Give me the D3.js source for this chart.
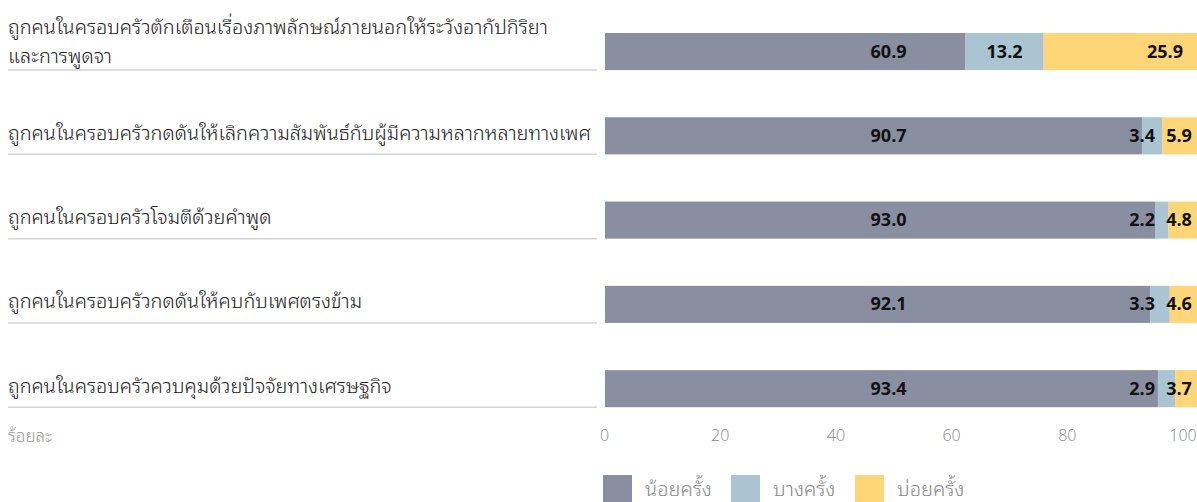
<!DOCTYPE html>
<html>
<head>
<meta charset="utf-8">
<script src="https://cdn.jsdelivr.net/npm/d3@7"></script>
<style>
  html, body { margin: 0; padding: 0; background: #fff; overflow: hidden; }
  svg { display: block; }
</style>
</head>
<body>
<svg id="chart" width="1197" height="502"></svg>
<script>
// Row labels (Thai); "\n" marks a line break
const categories = [
  "ถูกคนในครอบครัวตักเตือนเรื่องภาพลักษณ์ภายนอกให้ระวังอากัปกิริยา\nและการพูดจา",
  "ถูกคนในครอบครัวกดดันให้เลิกความสัมพันธ์กับผู้มีความหลากหลายทางเพศ",
  "ถูกคนในครอบครัวโจมตีด้วยคำพูด",
  "ถูกคนในครอบครัวกดดันให้คบกับเพศตรงข้าม",
  "ถูกคนในครอบครัวควบคุมด้วยปัจจัยทางเศรษฐกิจ"
];
const seriesNames = ["น้อยครั้ง", "บางครั้ง", "บ่อยครั้ง"];
const rarely    = [60.9, 90.7, 93.0, 92.1, 93.4];
const sometimes = [13.2, 3.4, 2.2, 3.3, 2.9];
const often     = [25.9, 5.9, 4.8, 4.6, 3.7];
const tickValues = [0, 20, 40, 60, 80, 100];
const unitLabel = "ร้อยละ";
const colors = ["#898ea1", "#aac4d2", "#fed678"];

const svg = d3.select("#chart");

const rows = categories.map((c, i) => ({ cat: c, vals: [rarely[i], sometimes[i], often[i]] }));

const x = d3.scaleLinear().domain([0, 100]).range([605, 1197]);
const xTicks = d3.scaleLinear().domain([0, 100]).range([604.5, 1183]);
const y = d3.scaleBand().domain(d3.range(categories.length)).range([33, 407.2])
  .paddingInner(0.56).paddingOuter(0);

const labelFont = "'Noto Sans Thai Looped', 'Loma', 'Garuda', 'Tlwg Typo', 'Leelawadee UI', Tahoma, 'Noto Sans Thai', sans-serif";
const valueFont = "'Open Sans', 'Noto Sans', sans-serif";
const fmt = d3.format(".1f");

function valueText(px, py, anchor, v) {
  svg.append("text").attr("x", px).attr("y", py).attr("text-anchor", anchor)
    .attr("font-family", valueFont).attr("font-weight", 700).attr("font-size", 18)
    .attr("fill", "#111").text(fmt(v));
}

rows.forEach((r, i) => {
  let acc = 0;
  const segs = r.vals.map((v, k) => { const s = { k, v, x0: acc, x1: acc + v }; acc += v; return s; });

  // stacked segments
  svg.append("g").selectAll("rect").data(segs).join("rect")
    .attr("x", d => x(d.x0))
    .attr("width", d => x(d.x1) - x(d.x0))
    .attr("y", y(i))
    .attr("height", y.bandwidth())
    .attr("fill", d => colors[d.k]);

  // separator under the row label
  svg.append("line")
    .attr("x1", 8).attr("x2", 597)
    .attr("y1", y(i) + y.bandwidth()).attr("y2", y(i) + y.bandwidth())
    .attr("stroke", "#d4d4d4").attr("stroke-width", 1.5);

  // row label, one text per line
  const lines = r.cat.split("\n");
  const cy = y(i) + y.bandwidth() / 2;
  const lh = 29;
  const firstBaseline = lines.length > 1 ? cy - 17.5 : cy + 4;
  lines.forEach((ln, j) => {
    svg.append("text")
      .attr("x", 8).attr("y", firstBaseline + j * lh)
      .attr("font-family", labelFont)
      .attr("font-size", 19.9)
      .attr("font-weight", 300)
      .attr("fill", "#222")
      .text(ln);
  });

  // value labels
  const vy = cy + 6;
  const right = x(100);
  // third series: right-aligned inside a wide segment, centred (clamped) otherwise
  const s2 = segs[2];
  const w2 = 28;
  let t2Left;
  if (x(s2.x1) - x(s2.x0) > w2 + 30) {
    t2Left = x(s2.x1) - 14 - w2 * 1.3;
    valueText(x(s2.x1) - 14, vy, "end", s2.v);
  } else {
    let c = (x(s2.x0) + x(s2.x1)) / 2;
    c = Math.min(c, right - 4 - w2 / 2);
    t2Left = c - w2 / 2;
    valueText(c, vy, "middle", s2.v);
  }
  // second series: centred in a wide segment, else set just left of the third label
  const s1 = segs[1];
  if (x(s1.x1) - x(s1.x0) > 50) {
    valueText((x(s1.x0) + x(s1.x1)) / 2, vy, "middle", s1.v);
  } else {
    valueText(t2Left - 10, vy, "end", s1.v);
  }
  // first series: common anchor column
  valueText(x(47.9), vy, "middle", segs[0].v);
});

// x axis tick labels
svg.append("g").selectAll("text").data(tickValues).join("text")
  .attr("x", d => xTicks(d))
  .attr("y", 441)
  .attr("text-anchor", "middle")
  .attr("font-family", valueFont)
  .attr("font-weight", 300)
  .attr("font-size", 16)
  .attr("fill", "#8a8a8a")
  .text(d => d);

svg.append("text").attr("x", 8).attr("y", 442)
  .attr("font-family", labelFont).attr("font-size", 17).attr("font-weight", 300)
  .attr("fill", "#999").text(unitLabel);

// legend
const legendX = [603, 731, 855];
const lg = svg.append("g").selectAll("g").data(seriesNames).join("g")
  .attr("transform", (d, i) => `translate(${legendX[i]},475)`);
lg.append("rect").attr("width", 29).attr("height", 29).attr("fill", (d, i) => colors[i]);
lg.append("text").attr("x", 42).attr("y", 21)
  .attr("font-family", labelFont).attr("font-size", 20).attr("font-weight", 300)
  .attr("fill", "#8a8a8a").text(d => d);
</script>
</body>
</html>
